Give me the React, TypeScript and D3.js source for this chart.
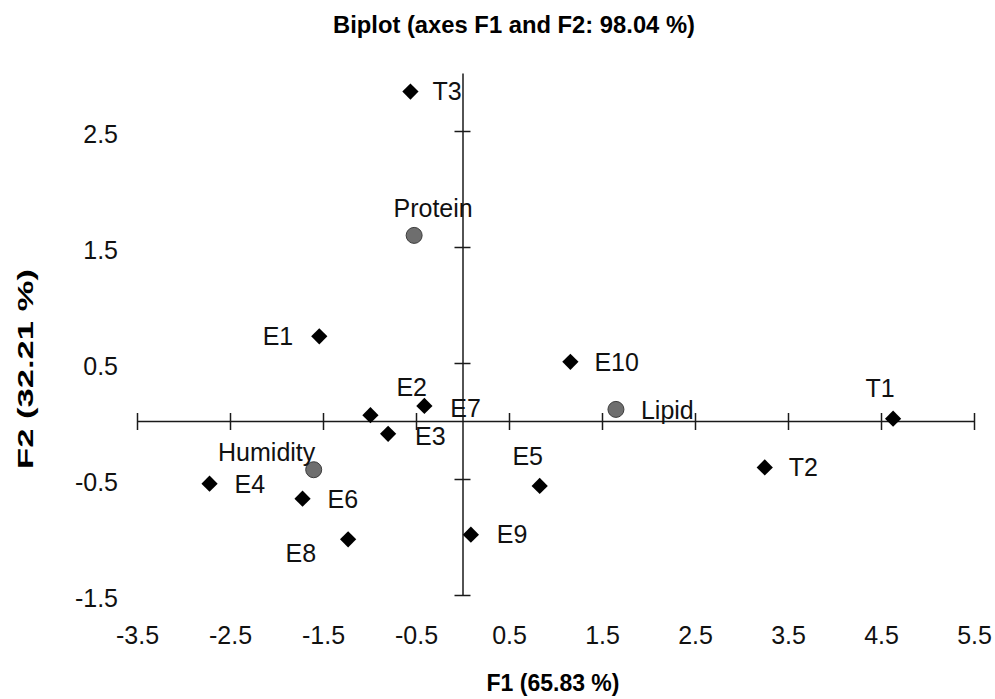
import { useRef, useEffect } from 'react';
import * as d3 from 'd3';

// observations (F1, F2 coordinates)
const obsNames = ['T1', 'T2', 'T3', 'E1', 'E2', 'E3', 'E4', 'E5', 'E6', 'E7', 'E8', 'E9', 'E10'];
const obsF1 = [4.63, 3.25, -0.56, -1.54, -0.99, -0.8, -2.72, 0.83, -1.72, -0.41, -1.23, 0.09, 1.16];
const obsF2 = [0.02, -0.4, 2.84, 0.73, 0.05, -0.11, -0.54, -0.56, -0.67, 0.13, -1.02, -0.98, 0.51];

// variables
const varNames = ['Protein', 'Lipid', 'Humidity'];
const varF1 = [-0.52, 1.65, -1.6];
const varF2 = [1.6, 0.1, -0.42];

const xTicks = [-3.5, -2.5, -1.5, -0.5, 0.5, 1.5, 2.5, 3.5, 4.5, 5.5];
const yTicks = [-1.5, -0.5, 0.5, 1.5, 2.5];

const width = 995;
const height = 699;
const font = "'Liberation Sans', Arial, sans-serif";
const fmt = (d: number) => d.toFixed(1); // plain hyphen minus, like the original

// where each label sits relative to its point: dx, dy, anchor
const labelPos: Record<string, [number, number, string]> = {
  T1: [-13, -30, 'middle'],
  T2: [24, 0, 'start'],
  T3: [22, 0, 'start'],
  E1: [-26, 0, 'end'],
  E2: [26, -28, 'start'],
  E3: [27, 2, 'start'],
  E4: [25, 1, 'start'],
  E5: [-12, -30, 'middle'],
  E6: [25, 1, 'start'],
  E7: [26, 2, 'start'],
  E8: [-32, 14, 'end'],
  E9: [26, 0, 'start'],
  E10: [24, 0, 'start'],
  Protein: [19, -27, 'middle'],
  Lipid: [25, 1, 'start'],
  Humidity: [-47, -17, 'middle'],
};

const Biplot = () => {
  const ref = useRef<SVGSVGElement>(null);

  useEffect(() => {
    const svg = d3.select(ref.current);
    svg.selectAll('*').remove();

    const x = d3.scaleLinear().domain([-3.5, 5.5]).range([137, 974]);
    const y = d3.scaleLinear().domain([-1.5, 3.0]).range([595, 73]);

    // title
    svg
      .append('text')
      .attr('x', 514)
      .attr('y', 33)
      .attr('text-anchor', 'middle')
      .attr('font-family', font)
      .attr('font-weight', 'bold')
      .attr('font-size', 23)
      .attr('textLength', 362)
      .attr('lengthAdjust', 'spacingAndGlyphs')
      .text('Biplot (axes F1 and F2: 98.04 %)');

    // horizontal axis through y = 0
    const xAxis = svg
      .append('g')
      .attr('transform', `translate(0, ${y(0)})`)
      .call(d3.axisBottom(x).tickValues(xTicks).tickSize(9).tickSizeOuter(0).tickFormat(() => ''));
    xAxis.selectAll('.tick line').attr('y1', -8);

    // vertical axis through x = 0
    const yAxis = svg
      .append('g')
      .attr('transform', `translate(${x(0)}, 0)`)
      .call(d3.axisLeft(y).tickValues(yTicks).tickSize(8).tickSizeOuter(0).tickFormat(() => ''));
    yAxis.selectAll('.tick line').attr('x1', 8);

    svg
      .selectAll('.domain, .tick line')
      .attr('stroke', '#1a1a1a')
      .attr('stroke-width', 1.5);

    // tick labels sit at the bottom / left of the frame
    const xLab = svg
      .append('g')
      .attr('transform', `translate(0, 623)`)
      .call(d3.axisBottom(x).tickValues(xTicks).tickSize(0).tickFormat(fmt));
    xLab.select('.domain').remove();
    xLab
      .selectAll('text')
      .attr('font-size', 25)
      .attr('font-family', font)
      .attr('fill', '#111')
      .attr('dy', '0.71em');

    const yLab = svg
      .append('g')
      .attr('transform', `translate(118, 0)`)
      .call(d3.axisLeft(y).tickValues(yTicks).tickSize(0).tickFormat(fmt));
    yLab.select('.domain').remove();
    yLab
      .selectAll('text')
      .attr('x', 0)
      .attr('font-size', 25)
      .attr('font-family', font)
      .attr('fill', '#111')
      .attr('dy', '0.45em');

    // axis titles
    svg
      .append('text')
      .attr('x', 553)
      .attr('y', 691)
      .attr('text-anchor', 'middle')
      .attr('font-family', font)
      .attr('font-weight', 'bold')
      .attr('font-size', 23)
      .text('F1 (65.83 %)');

    svg
      .append('text')
      .attr('transform', `translate(33, 369) rotate(-90)`)
      .attr('text-anchor', 'middle')
      .attr('font-family', font)
      .attr('font-weight', 'bold')
      .attr('font-size', 22)
      .attr('textLength', 200)
      .attr('lengthAdjust', 'spacingAndGlyphs')
      .text('F2 (32.21 %)');

    const obs = obsNames.map((name, i) => ({ name, f1: obsF1[i], f2: obsF2[i] }));
    const vars = varNames.map((name, i) => ({ name, f1: varF1[i], f2: varF2[i] }));

    // observations as black diamonds
    const diamond = d3.symbol(d3.symbolSquare, 132);
    svg
      .append('g')
      .selectAll('path')
      .data(obs)
      .join('path')
      .attr('d', diamond)
      .attr('transform', (d) => `translate(${x(d.f1)}, ${y(d.f2)}) rotate(45)`)
      .attr('fill', '#000');

    // variables as grey circles
    svg
      .append('g')
      .selectAll('circle')
      .data(vars)
      .join('circle')
      .attr('cx', (d) => x(d.f1))
      .attr('cy', (d) => y(d.f2))
      .attr('r', 8)
      .attr('fill', '#6e6e6e')
      .attr('stroke', '#3c3c3c')
      .attr('stroke-width', 1);

    // labels
    svg
      .append('g')
      .selectAll('text')
      .data([...obs, ...vars])
      .join('text')
      .attr('x', (d) => x(d.f1) + labelPos[d.name][0])
      .attr('y', (d) => y(d.f2) + labelPos[d.name][1])
      .attr('dy', '0.35em')
      .attr('text-anchor', (d) => labelPos[d.name][2])
      .attr('font-family', font)
      .attr('font-size', 25)
      .attr('fill', '#111')
      .text((d) => d.name);
  }, []);

  return <svg ref={ref} width={width} height={height} />;
};

export default function App() {
  return (
    <div style={{ position: 'absolute', left: 0, top: 0, background: 'white' }}>
      <Biplot />
    </div>
  );
}
